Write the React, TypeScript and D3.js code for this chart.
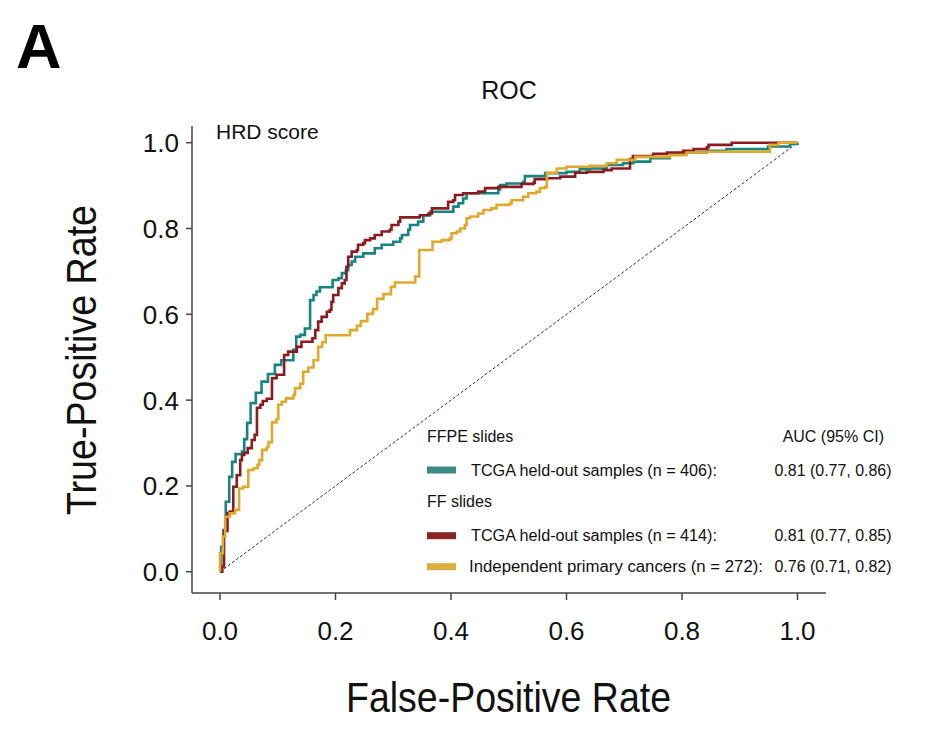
import React from "react";
import * as d3 from "d3";

// ROC points [false-positive rate, true-positive rate]; curve steps up at each listed FPR
const ffpeTcga: [number, number][] = [
  [0, 0], [0.002, 0.058], [0.006, 0.097], [0.01, 0.163], [0.016, 0.221], [0.021, 0.256],
  [0.027, 0.274], [0.038, 0.28], [0.042, 0.309], [0.047, 0.347], [0.053, 0.393], [0.062, 0.417],
  [0.072, 0.443], [0.083, 0.461], [0.095, 0.482], [0.106, 0.493], [0.127, 0.517], [0.132, 0.548],
  [0.139, 0.552], [0.147, 0.567], [0.156, 0.633], [0.162, 0.645], [0.167, 0.653], [0.173, 0.663],
  [0.195, 0.68], [0.205, 0.684], [0.211, 0.696], [0.218, 0.703], [0.222, 0.715], [0.228, 0.723],
  [0.234, 0.734], [0.248, 0.742], [0.268, 0.754], [0.28, 0.762], [0.3, 0.769], [0.312, 0.777],
  [0.315, 0.785], [0.326, 0.797], [0.329, 0.808], [0.343, 0.816], [0.352, 0.831], [0.364, 0.839],
  [0.404, 0.851], [0.413, 0.859], [0.421, 0.87], [0.427, 0.882], [0.482, 0.891], [0.485, 0.901],
  [0.496, 0.905], [0.525, 0.909], [0.528, 0.922], [0.563, 0.929], [0.6, 0.932], [0.623, 0.938],
  [0.641, 0.94], [0.67, 0.948], [0.698, 0.952], [0.716, 0.956], [0.745, 0.964], [0.779, 0.975],
  [0.808, 0.977], [0.843, 0.981], [0.877, 0.985], [0.949, 0.991], [0.987, 0.997], [1, 1],
];

const ffTcga: [number, number][] = [
  [0, 0], [0.004, 0.012], [0.007, 0.095], [0.013, 0.137], [0.017, 0.14], [0.023, 0.198],
  [0.029, 0.225], [0.035, 0.26], [0.038, 0.272], [0.042, 0.277], [0.048, 0.288], [0.055, 0.307],
  [0.06, 0.319], [0.064, 0.382], [0.07, 0.389], [0.074, 0.398], [0.081, 0.403], [0.09, 0.451],
  [0.098, 0.459], [0.111, 0.505], [0.118, 0.513], [0.133, 0.524], [0.141, 0.536], [0.16, 0.544],
  [0.165, 0.563], [0.17, 0.583], [0.176, 0.594], [0.185, 0.606], [0.19, 0.61], [0.193, 0.629],
  [0.196, 0.645], [0.205, 0.661], [0.211, 0.672], [0.216, 0.68], [0.219, 0.711], [0.222, 0.734],
  [0.228, 0.746], [0.237, 0.75], [0.239, 0.762], [0.248, 0.766], [0.251, 0.773], [0.26, 0.777],
  [0.268, 0.785], [0.28, 0.793], [0.294, 0.797], [0.297, 0.808], [0.309, 0.816], [0.312, 0.826],
  [0.346, 0.831], [0.361, 0.835], [0.367, 0.847], [0.395, 0.862], [0.404, 0.866], [0.407, 0.878],
  [0.421, 0.882], [0.447, 0.886], [0.459, 0.894], [0.482, 0.897], [0.522, 0.904], [0.543, 0.907],
  [0.545, 0.915], [0.566, 0.917], [0.589, 0.921], [0.615, 0.93], [0.635, 0.932], [0.664, 0.936],
  [0.678, 0.94], [0.71, 0.962], [0.715, 0.969], [0.75, 0.974], [0.774, 0.977], [0.802, 0.981],
  [0.82, 0.985], [0.843, 0.989], [0.846, 0.995], [0.886, 1], [1, 1],
];

const ffIndependent: [number, number][] = [
  [0, 0], [0, 0.043], [0.005, 0.082], [0.009, 0.128], [0.017, 0.136], [0.026, 0.144],
  [0.033, 0.194], [0.04, 0.198], [0.049, 0.237], [0.058, 0.241], [0.065, 0.249], [0.068, 0.26],
  [0.073, 0.284], [0.081, 0.29], [0.084, 0.302], [0.09, 0.348], [0.098, 0.356], [0.101, 0.389],
  [0.107, 0.396], [0.114, 0.404], [0.127, 0.412], [0.13, 0.428], [0.139, 0.438], [0.144, 0.466],
  [0.153, 0.476], [0.162, 0.493], [0.17, 0.524], [0.177, 0.535], [0.183, 0.551], [0.225, 0.563],
  [0.237, 0.573], [0.244, 0.584], [0.255, 0.601], [0.265, 0.612], [0.272, 0.636], [0.283, 0.647],
  [0.296, 0.664], [0.303, 0.674], [0.338, 0.688], [0.345, 0.75], [0.368, 0.769], [0.384, 0.773],
  [0.398, 0.777], [0.401, 0.789], [0.41, 0.793], [0.416, 0.8], [0.424, 0.808], [0.427, 0.824],
  [0.433, 0.828], [0.447, 0.835], [0.456, 0.843], [0.47, 0.847], [0.479, 0.855], [0.502, 0.859],
  [0.505, 0.866], [0.525, 0.874], [0.534, 0.882], [0.548, 0.886], [0.554, 0.894], [0.563, 0.897],
  [0.566, 0.93], [0.583, 0.94], [0.6, 0.944], [0.641, 0.946], [0.67, 0.952], [0.687, 0.96],
  [0.719, 0.967], [0.779, 0.971], [0.808, 0.977], [0.843, 0.979], [0.952, 0.995], [0.967, 1], [1, 1],
];

const tickValues = [0, 0.2, 0.4, 0.6, 0.8, 1.0];
const seriesLabels = [
  "TCGA held-out samples (n = 406):",
  "TCGA held-out samples (n = 414):",
  "Independent primary cancers (n = 272):",
];
const aucLabels = ["0.81 (0.77, 0.86)", "0.81 (0.77, 0.85)", "0.76 (0.71, 0.82)"];
const groupLabels = ["FFPE slides", "FF slides"];

const FONT = "'Liberation Sans', Arial, Helvetica, sans-serif";
const lineColors = ["#16857f", "#8c1b1f", "#e1a92c"];
const swatchColors = ["#3d8a85", "#8b2224", "#dcb03e"];

export default function App() {
  const x = d3.scaleLinear().domain([0, 1]).range([220, 797.5]);
  const y = d3.scaleLinear().domain([0, 1]).range([571.7, 142.7]);
  const xAxisLeft = 192, xAxisRight = 826, yAxisTop = 126, yAxisBottom = 593;

  const line = d3
    .line<[number, number]>()
    .x((d) => x(d[0]))
    .y((d) => y(d[1]))
    .curve(d3.curveStepAfter);

  const series = [ffpeTcga, ffTcga, ffIndependent];
  const labelStart = [471, 471, 469];
  const labelWidth = [246, 246, 294];

  const rows = [
    { type: "group", label: groupLabels[0], y: 436.7 },
    { type: "series", idx: 0, y: 470 },
    { type: "group", label: groupLabels[1], y: 501.7 },
    { type: "series", idx: 1, y: 535.7 },
    { type: "series", idx: 2, y: 566.7 },
  ];

  return (
    <svg
      width={926}
      height={754}
      style={{ position: "absolute", left: 0, top: 0, background: "#fff" }}
      fontFamily={FONT}
    >
      <rect width={926} height={754} fill="#fff" />
      <text x={16} y={68} fontSize={63} fontWeight="bold" fill="#000">A</text>
      <text x={509} y={99} fontSize={25} textAnchor="middle" fill="#111">ROC</text>

      {/* axes */}
      <line x1={xAxisLeft} x2={xAxisLeft} y1={yAxisTop} y2={yAxisBottom} stroke="#444" strokeWidth={1.5} />
      <line x1={xAxisLeft} x2={xAxisRight} y1={yAxisBottom} y2={yAxisBottom} stroke="#444" strokeWidth={1.5} />
      {tickValues.map((t) => (
        <g key={"y" + t}>
          <line x1={xAxisLeft - 6} x2={xAxisLeft} y1={y(t)} y2={y(t)} stroke="#444" strokeWidth={1.5} />
          <text x={179} y={y(t) + 9.5} fontSize={26} textAnchor="end" fill="#111">
            {t.toFixed(1)}
          </text>
        </g>
      ))}
      {tickValues.map((t) => (
        <g key={"x" + t}>
          <line x1={x(t)} x2={x(t)} y1={yAxisBottom} y2={yAxisBottom + 7} stroke="#444" strokeWidth={1.5} />
          <text x={x(t)} y={640} fontSize={26} textAnchor="middle" fill="#111">
            {t.toFixed(1)}
          </text>
        </g>
      ))}

      <text
        x={0}
        y={0}
        transform="translate(96,360) rotate(-90)"
        fontSize={42}
        textAnchor="middle"
        textLength={310}
        lengthAdjust="spacingAndGlyphs"
        fill="#111"
      >
        True-Positive Rate
      </text>
      <text
        x={508.5}
        y={712}
        fontSize={42}
        textAnchor="middle"
        textLength={325}
        lengthAdjust="spacingAndGlyphs"
        fill="#111"
      >
        False-Positive Rate
      </text>

      <text x={216} y={139} fontSize={21} fill="#111">HRD score</text>

      {/* diagonal */}
      <line
        x1={x(0)} y1={y(0)} x2={x(1)} y2={y(1)}
        stroke="#333" strokeWidth={1} strokeDasharray="3,2"
      />

      {series.map((s, i) => (
        <path key={i} d={line(s) || ""} fill="none" stroke={lineColors[i]} strokeWidth={2.6} strokeLinejoin="miter" />
      ))}

      {/* legend */}
      <text x={884} y={436.7 + 5.5} fontSize={16} textAnchor="end" fill="#111">AUC (95% CI)</text>
      {rows.map((r, k) =>
        r.type === "group" ? (
          <text key={k} x={427} y={r.y + 5.5} fontSize={16} fill="#111">{r.label}</text>
        ) : (
          <g key={k}>
            <rect x={427} y={r.y - 3.5} width={29} height={7} fill={swatchColors[r.idx as number]} />
            <text
              x={labelStart[r.idx as number]}
              y={r.y + 5.5}
              fontSize={16}
              textLength={labelWidth[r.idx as number]}
              lengthAdjust="spacingAndGlyphs"
              fill="#111"
            >
              {seriesLabels[r.idx as number]}
            </text>
            <text
              x={774.5}
              y={r.y + 5.5}
              fontSize={16}
              textLength={117}
              lengthAdjust="spacingAndGlyphs"
              fill="#111"
            >
              {aucLabels[r.idx as number]}
            </text>
          </g>
        )
      )}
    </svg>
  );
}
